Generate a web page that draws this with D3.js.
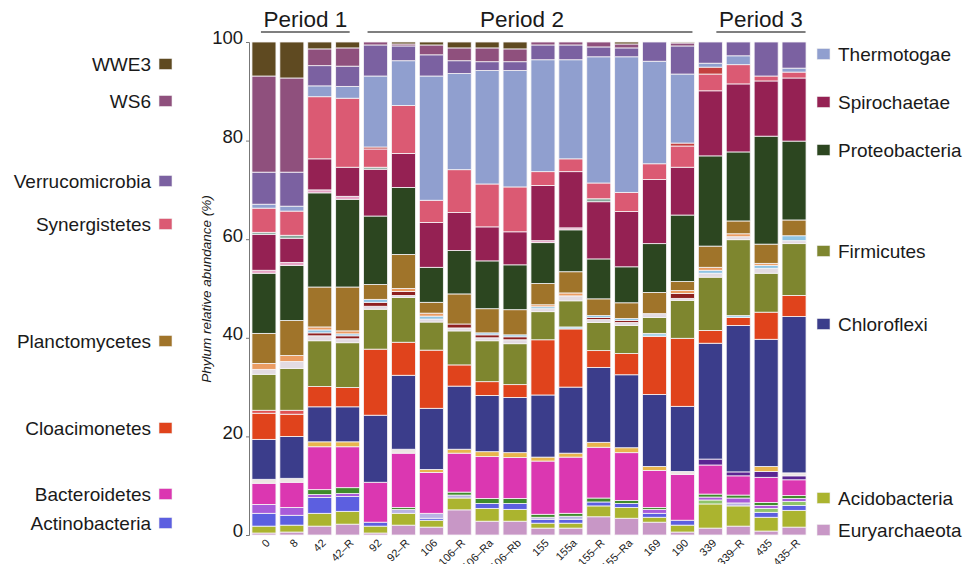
<!DOCTYPE html>
<html>
<head>
<meta charset="utf-8">
<script src="https://cdn.jsdelivr.net/npm/d3@7"></script>
<style>
  html, body { margin: 0; padding: 0; background: #fff; }
  svg { display: block; font-family: "Liberation Sans", Arial, Helvetica, sans-serif; }
</style>
</head>
<body>
<svg id="chart" width="974" height="564"></svg>
<script>
// Samples (x axis) and the sampling periods they belong to
const samples = ["0", "8", "42", "42–R", "92", "92–R", "106", "106–R", "106–Ra", "106–Rb",
                 "155", "155a", "155–R", "155–Ra", "169", "190", "339", "339–R", "435", "435–R"];
const periodLabels = ["Period 1", "Period 2", "Period 3"];
const periodFirst = ["0", "92", "339"];
const periodLast = ["42–R", "190", "435–R"];
const yTicks = [0, 20, 40, 60, 80, 100];

// Relative abundance (%) per phylum, one value per sample (stacked bottom to top)
const Euryarchaeota   = [0.4, 0.6, 1.8, 2.2, 0.4, 2.0, 1.6, 5.1, 2.8, 2.8, 1.4, 1.4, 3.7, 3.4, 2.6, 0.6, 1.4, 1.8, 0.8, 1.6];
const Acidobacteria   = [1.4, 1.4, 2.6, 2.6, 1.4, 2.4, 1.4, 2.4, 2.6, 2.4, 1.0, 1.0, 2.2, 2.2, 1.0, 1.4, 4.9, 4.1, 2.8, 3.4];
const Actinobacteria  = [2.6, 2.0, 3.2, 3.0, 0.8, 0.0, 0.4, 0.0, 1.0, 1.2, 0.8, 0.8, 0.8, 0.8, 0.8, 1.0, 0.0, 0.0, 1.0, 1.0];
const minorLavender   = [0, 0, 0, 0, 0, 0.8, 1.0, 0.6, 0, 0, 0.4, 0.6, 0, 0, 0, 0, 0, 0.6, 0, 0];
const minorLightGreen = [0, 0, 0, 0, 0, 0, 0, 0, 0, 0, 0, 0, 0, 0, 0, 0, 0.8, 0, 0.8, 0.8];
const minorViolet     = [1.8, 1.6, 0.6, 0.6, 0, 0, 0, 0, 0, 0, 0, 0, 0, 0, 0.8, 0, 0.6, 1.0, 0.6, 0.6];
const minorGreen      = [0, 0, 1.0, 1.2, 0, 0.4, 0, 0.6, 1.0, 1.0, 0.6, 0.6, 0.8, 0.6, 0.4, 0, 0.6, 0.6, 0.6, 0.6];
const Bacteroidetes   = [4.3, 5.1, 8.7, 8.3, 8.1, 11.0, 8.3, 7.9, 8.5, 8.3, 10.8, 11.4, 10.3, 9.7, 7.5, 9.3, 5.9, 3.9, 5.1, 3.2];
const minorIndigo     = [0, 0, 0, 0, 0, 0, 0, 0, 0, 0, 0, 0, 0, 0, 0, 0, 1.2, 0.8, 1.2, 0.8];
const minorIvory      = [0.8, 0.8, 0, 0, 0, 0.8, 0, 0, 0, 0, 0, 0, 0, 0, 0, 0.6, 0, 0, 0, 0.6];
const minorGold       = [0, 0, 1.0, 1.0, 0, 0, 0.6, 0.8, 1.0, 1.0, 0.8, 0.8, 1.0, 1.0, 0.8, 0, 0, 0, 1.0, 0];
const Chloroflexi     = [8.1, 8.5, 7.1, 7.1, 13.6, 15.0, 12.4, 12.8, 11.4, 11.2, 12.6, 13.4, 15.2, 14.8, 14.6, 13.2, 23.5, 29.7, 25.8, 31.7];
const Cloacimonetes   = [5.3, 4.5, 4.1, 3.9, 13.4, 6.7, 11.8, 4.3, 2.8, 2.6, 11.2, 11.8, 3.4, 4.3, 11.8, 13.8, 2.6, 1.6, 5.5, 4.3];
const minorRed        = [0.6, 0.8, 0, 0, 0, 0, 0, 0, 0, 0, 0, 0, 0, 0, 0, 0, 0, 0, 0, 0];
const minorIce        = [0, 0, 0, 0, 0, 0, 0, 0, 0, 0, 0, 0.4, 0, 0, 0.6, 0, 0, 0.4, 0, 0];
const Firmicutes      = [7.3, 8.5, 9.3, 9.1, 8.1, 9.1, 5.7, 6.9, 8.3, 8.3, 5.7, 5.3, 5.7, 5.7, 3.2, 7.7, 10.8, 15.4, 7.9, 10.5];
const minorPale       = [1.0, 1.4, 1.0, 0.8, 0.6, 0.4, 0.6, 0.6, 0.6, 0.8, 0.6, 1.0, 0.6, 0.6, 0.8, 0.4, 0.8, 0.6, 1.0, 0.6];
const minorMaroon     = [0, 0, 0.6, 0.6, 0.8, 0.8, 0, 0.8, 0.6, 0.6, 0, 0, 0.4, 0.4, 0, 1.0, 0, 0, 0, 0];
const minorSky        = [0, 0, 0.6, 0.4, 0.6, 0, 0.6, 0, 0.4, 0.4, 0.4, 0, 0.4, 0.4, 0, 0, 0.6, 0, 0.6, 1.0];
const minorApricot    = [1.2, 1.2, 0.6, 0.6, 0, 0.6, 0.6, 0, 0, 0, 0.4, 0.6, 0, 0, 0, 0.6, 0.6, 0.6, 0.4, 0];
const Planctomycetes  = [6.1, 7.1, 8.1, 8.9, 3.0, 6.9, 2.2, 6.1, 4.9, 5.1, 4.3, 4.3, 3.4, 3.2, 4.3, 1.8, 4.3, 2.6, 3.9, 3.2];
const Proteobacteria  = [12.2, 11.2, 19.1, 17.8, 13.9, 13.6, 7.1, 8.8, 9.7, 9.1, 8.3, 8.5, 8.1, 7.3, 9.9, 13.5, 18.3, 14.0, 21.9, 16.0];
const minorRose       = [0.6, 0.6, 0.6, 0.6, 0, 0, 0, 0, 0, 0, 0.4, 0.4, 0, 0, 0, 0, 0, 0, 0, 0];
const Spirochaetae    = [7.3, 4.9, 6.3, 5.9, 9.5, 6.9, 9.1, 7.7, 6.9, 6.7, 11.2, 11.4, 11.6, 11.2, 13.0, 9.7, 13.2, 13.8, 11.2, 12.8];
const minorSage       = [0.4, 0.6, 0, 0, 0.4, 0, 0, 0, 0, 0, 0, 0, 0.6, 0, 0, 0, 0, 0, 0, 0];
const Synergistetes   = [4.9, 4.9, 12.6, 14.0, 3.7, 9.7, 4.5, 8.7, 8.7, 9.1, 2.8, 2.6, 3.2, 3.9, 3.2, 4.3, 3.4, 3.9, 1.0, 1.2];
const minorCrimson    = [0, 0, 0, 0, 0.4, 0, 0, 0, 0, 0, 0, 0, 0, 0, 0, 0.6, 1.4, 0, 0, 0];
const Thermotogae     = [0.8, 1.0, 2.2, 2.4, 14.4, 9.1, 25.2, 19.5, 23.0, 23.6, 22.7, 20.1, 25.6, 27.5, 20.8, 14.0, 0.8, 1.8, 0, 0.8];
const Verrucomicrobia = [6.5, 6.9, 4.1, 4.1, 6.3, 3.0, 4.3, 2.6, 1.8, 1.8, 3.0, 3.0, 2.0, 1.8, 3.9, 5.7, 4.3, 2.8, 6.9, 5.3];
const WS6             = [19.5, 19.1, 3.4, 3.7, 0.6, 0.4, 2.0, 2.6, 2.8, 2.6, 0.6, 0.6, 1.0, 0.8, 0, 0.6, 0, 0, 0, 0];
const WWE3            = [6.9, 7.3, 1.4, 1.2, 0, 0.4, 0.6, 1.2, 1.2, 1.4, 0, 0, 0, 0.4, 0, 0.2, 0, 0, 0, 0];

// Stack order (bottom -> top) with the matching fill colours
const series = [
  ["Euryarchaeota", Euryarchaeota, "#c897c6"],
  ["Acidobacteria", Acidobacteria, "#abb42f"],
  ["Actinobacteria", Actinobacteria, "#5c5fe0"],
  ["minorLavender", minorLavender, "#b9b3e4"],
  ["minorLightGreen", minorLightGreen, "#8fc46a"],
  ["minorViolet", minorViolet, "#a95bd9"],
  ["minorGreen", minorGreen, "#3f8b2b"],
  ["Bacteroidetes", Bacteroidetes, "#db37b1"],
  ["minorIndigo", minorIndigo, "#5b2592"],
  ["minorIvory", minorIvory, "#ece6e3"],
  ["minorGold", minorGold, "#e8b54c"],
  ["Chloroflexi", Chloroflexi, "#3b3d8b"],
  ["Cloacimonetes", Cloacimonetes, "#e0431c"],
  ["minorRed", minorRed, "#e05252"],
  ["minorIce", minorIce, "#a9d4ea"],
  ["Firmicutes", Firmicutes, "#7e862f"],
  ["minorPale", minorPale, "#e3dbe2"],
  ["minorMaroon", minorMaroon, "#8e1f1f"],
  ["minorSky", minorSky, "#8fc4e4"],
  ["minorApricot", minorApricot, "#eb9c62"],
  ["Planctomycetes", Planctomycetes, "#a0742a"],
  ["Proteobacteria", Proteobacteria, "#2c4620"],
  ["minorRose", minorRose, "#e7a2c4"],
  ["Spirochaetae", Spirochaetae, "#952153"],
  ["minorSage", minorSage, "#86a89a"],
  ["Synergistetes", Synergistetes, "#db5a73"],
  ["minorCrimson", minorCrimson, "#c4403f"],
  ["Thermotogae", Thermotogae, "#909fcf"],
  ["Verrucomicrobia", Verrucomicrobia, "#7b61a1"],
  ["WS6", WS6, "#8f507d"],
  ["WWE3", WWE3, "#5f4a21"]
];
const colorOf = Object.fromEntries(series.map(s => [s[0], s[2]]));

const leftLegend = ["WWE3", "WS6", "Verrucomicrobia", "Synergistetes", "Planctomycetes", "Cloacimonetes", "Bacteroidetes", "Actinobacteria"];
const rightLegend = ["Thermotogae", "Spirochaetae", "Proteobacteria", "Firmicutes", "Chloroflexi", "Acidobacteria", "Euryarchaeota"];

// ---- drawing ----
const svg = d3.select("#chart");
const font = "'Liberation Sans', Arial, Helvetica, sans-serif";
const ink = "#1a1a1a";

const rows = samples.map((s, i) => {
  const r = { sample: s };
  series.forEach(([name, vals]) => { r[name] = vals[i]; });
  return r;
});
const stack = d3.stack().keys(series.map(s => s[0])).order(d3.stackOrderNone).offset(d3.stackOffsetNone);
const layers = stack(rows);

const x = d3.scaleBand().domain(samples).range([250, 808]).paddingInner(0.14).paddingOuter(0.07);
const y = d3.scaleLinear().domain([0, 100]).range([535, 42]);

// stacked bars
svg.append("g").selectAll("g").data(layers).join("g")
  .attr("fill", d => colorOf[d.key])
  .selectAll("rect").data(d => d.filter(p => p[1] - p[0] > 0)).join("rect")
  .attr("x", d => x(d.data.sample))
  .attr("width", x.bandwidth())
  .attr("y", d => y(d[1]))
  .attr("height", d => y(d[0]) - y(d[1]))
  .attr("stroke", "#f7f5f7")
  .attr("stroke-width", 0.8);

// y axis
const yAxis = svg.append("g").attr("transform", "translate(249,0)")
  .call(d3.axisLeft(y).tickValues(yTicks).tickSize(3).tickPadding(3));
yAxis.select(".domain").attr("stroke", "#777").attr("stroke-width", 1);
yAxis.selectAll(".tick line").attr("stroke", "#777");
yAxis.selectAll(".tick text")
  .attr("font-family", font).attr("font-size", 18.5).attr("fill", ink).attr("dy", "0.1em");

svg.append("text")
  .attr("transform", "translate(211,289) rotate(-90)")
  .attr("text-anchor", "middle")
  .attr("font-family", font).attr("font-size", 13.5).attr("font-style", "italic").attr("fill", ink)
  .text("Phylum relative abundance (%)");

// x axis labels (rotated, the longest ones run off the bottom edge)
svg.append("g").selectAll("text").data(samples).join("text")
  .attr("transform", d => `translate(${x(d) + x.bandwidth() / 2 + 4},${541}) rotate(-45)`)
  .attr("text-anchor", "end")
  .attr("dy", "0.35em")
  .attr("font-family", font).attr("font-size", 11).attr("fill", ink)
  .text(d => d);

// period headers
const periodInset = [[9, 14], [4, 22], [18, 23.5]];
const periodTextShift = [0, -8, 0];
periodLabels.forEach((lab, i) => {
  const x0 = x(periodFirst[i]) + periodInset[i][0];
  const x1 = x(periodLast[i]) + periodInset[i][1];
  svg.append("line").attr("x1", x0).attr("x2", x1).attr("y1", 32).attr("y2", 32)
    .attr("stroke", "#555").attr("stroke-width", 1.5);
  svg.append("text").attr("x", (x0 + x1) / 2 + periodTextShift[i]).attr("y", 27)
    .attr("text-anchor", "middle").attr("font-family", font).attr("font-size", 22.5).attr("fill", ink)
    .text(lab);
});

// legends
const leftLegendY = [64, 101, 181, 224, 341, 428, 494, 523];
const rightLegendY = [54, 102, 150, 251, 324, 498, 530];
const lg = svg.append("g");
leftLegend.forEach((name, i) => {
  lg.append("rect").attr("x", 159).attr("y", leftLegendY[i] - 5.5).attr("width", 13).attr("height", 11)
    .attr("fill", colorOf[name]).attr("stroke", "#eee").attr("stroke-width", 0.6);
  lg.append("text").attr("x", 151).attr("y", leftLegendY[i]).attr("dy", "0.35em")
    .attr("text-anchor", "end").attr("font-family", font).attr("font-size", 19).attr("fill", ink)
    .text(name);
});
rightLegend.forEach((name, i) => {
  lg.append("rect").attr("x", 817).attr("y", rightLegendY[i] - 5.5).attr("width", 13).attr("height", 11)
    .attr("fill", colorOf[name]).attr("stroke", "#eee").attr("stroke-width", 0.6);
  lg.append("text").attr("x", 838).attr("y", rightLegendY[i]).attr("dy", "0.35em")
    .attr("font-family", font).attr("font-size", 19).attr("fill", ink)
    .text(name);
});
</script>
</body>
</html>
